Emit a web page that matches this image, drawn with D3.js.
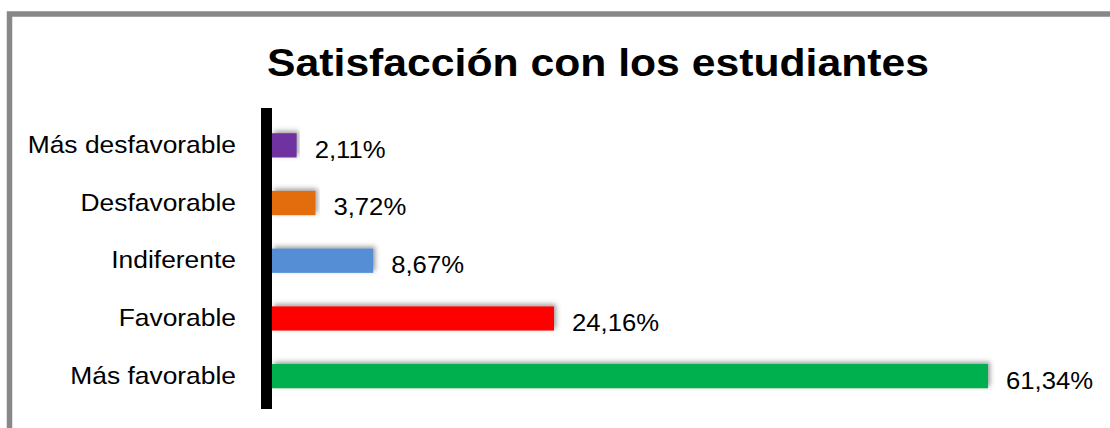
<!DOCTYPE html>
<html><head><meta charset="utf-8">
<script src="https://cdn.jsdelivr.net/npm/d3@7"></script>
<style>body{margin:0;background:#fff}svg{display:block}</style>
</head><body>
<script>
const categories = ["Más desfavorable","Desfavorable","Indiferente","Favorable","Más favorable"];
const values = [2.11, 3.72, 8.67, 24.16, 61.34];
const valueLabels = ["2,11%","3,72%","8,67%","24,16%","61,34%"];
const colors = ["#7030A0","#E36C09","#558ED5","#FF0000","#00B050"];
const title = "Satisfacción con los estudiantes";

const W = 1110, H = 428;
const FONT = "Liberation Sans, Arial, sans-serif";
const svg = d3.select("body").append("svg").attr("width", W).attr("height", H);
const defs = svg.append("defs");
const f = defs.append("filter").attr("id","sh").attr("x","-10%").attr("y","-60%").attr("width","120%").attr("height","220%");
f.append("feDropShadow").attr("dx",2).attr("dy",-2).attr("stdDeviation",2.5).attr("flood-color","#555").attr("flood-opacity",0.6);

svg.append("rect").attr("x",9.5).attr("y",14).attr("width",1200).attr("height",500)
  .attr("fill","none").attr("stroke","#888").attr("stroke-width",5.5);

svg.append("text").attr("transform","translate(598,76) scale(1.095,1)").attr("text-anchor","middle")
  .attr("font-family",FONT).attr("font-weight","bold")
  .attr("font-size",39).attr("fill","#000").text(title);

const x0 = 272;
const x = d3.scaleLinear().domain([0, 61.34]).range([x0, 988]);
const y = d3.scaleBand().domain(categories).range([116.5, 405]).paddingInner(0.58).paddingOuter(0.29);

const g = svg.append("g");
g.selectAll("rect.bar").data(categories).join("rect").attr("class","bar")
  .attr("x", x(0)).attr("y", d => y(d))
  .attr("width", (d,i) => x(values[i]) - x(0)).attr("height", y.bandwidth())
  .attr("fill", (d,i) => colors[i]).attr("filter","url(#sh)");

// axis line
svg.append("rect").attr("x",261).attr("y",108).attr("width",11).attr("height",301).attr("fill","#000");

const yAxis = d3.axisLeft(y).tickSize(0).tickPadding(0);
const ax = svg.append("g").attr("transform","translate(236,0)").call(yAxis);
ax.select(".domain").remove();
ax.selectAll("text").attr("x",0).attr("font-family",FONT).attr("font-size",24)
  .attr("transform","scale(1.1,1)").attr("fill","#000");

g.selectAll("text.val").data(categories).join("text").attr("class","val")
  .attr("transform", (d,i) => `translate(${x(values[i]) + 18},${y(d) + y.bandwidth()/2 + 4}) scale(1.07,1)`)
  .attr("dy","0.35em")
  .attr("font-family",FONT).attr("font-size",24).attr("fill","#000")
  .text((d,i) => valueLabels[i]);
</script>
</body></html>
